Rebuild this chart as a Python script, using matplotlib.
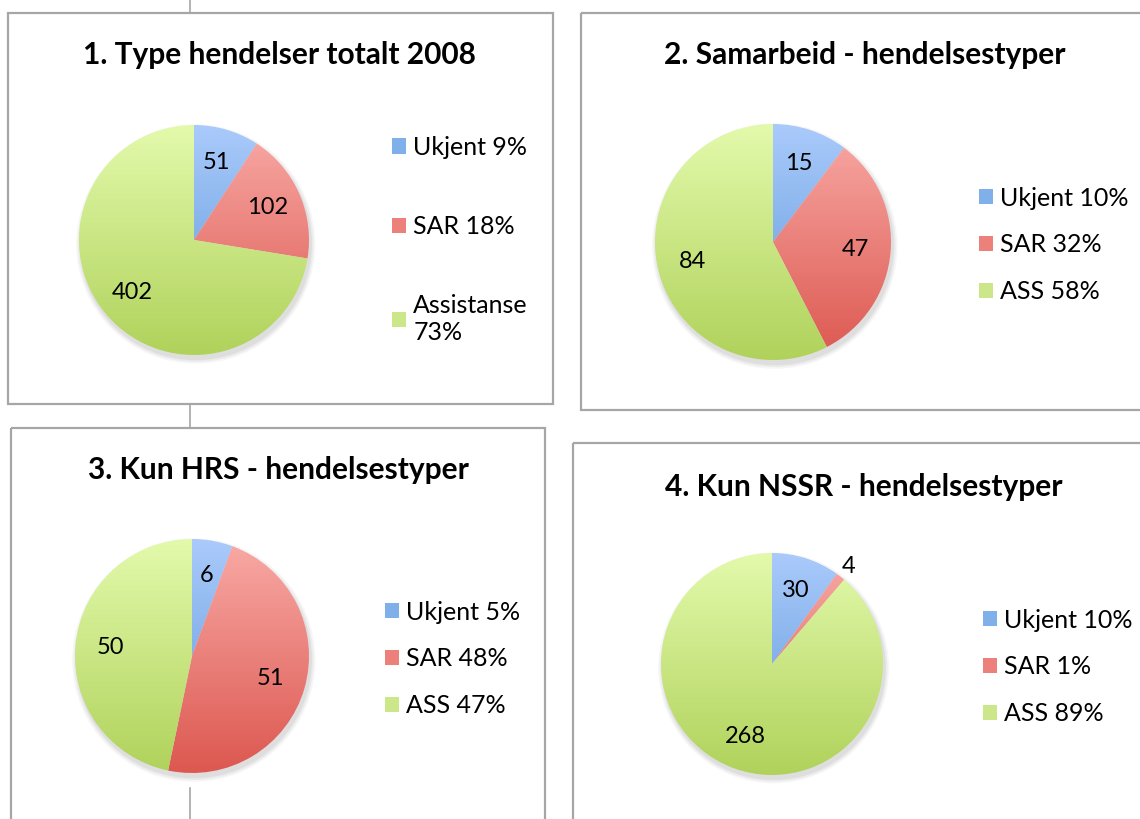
import matplotlib as mpl
mpl.use("Agg")
import matplotlib.pyplot as plt
import numpy as np
from matplotlib.colors import LinearSegmentedColormap
from matplotlib.patches import Patch, Rectangle, Circle

# ---- data ----
TITLES = [
    "1. Type hendelser totalt 2008",
    "2. Samarbeid - hendelsestyper",
    "3. Kun HRS - hendelsestyper",
    "4. Kun NSSR - hendelsestyper",
]
COUNTS_1 = [51, 102, 402]
COUNTS_2 = [15, 47, 84]
COUNTS_3 = [6, 51, 50]
COUNTS_4 = [30, 4, 268]
LEGEND_1 = ["Ukjent 9%", "SAR 18%", "Assistanse\n73%"]
LEGEND_2 = ["Ukjent 10%", "SAR 32%", "ASS 58%"]
LEGEND_3 = ["Ukjent 5%", "SAR 48%", "ASS 47%"]
LEGEND_4 = ["Ukjent 10%", "SAR 1%", "ASS 89%"]

# ---- styling / layout (pixels of a 1140x819 canvas) ----
W, H = 1140, 819
GRADIENTS = [("#aacafb", "#5a97d8"), ("#f9aaa6", "#dc5850"), ("#e3faac", "#b0d25b")]
MIDS = ["#7fb0ea", "#ec817b", "#cbe78a"]
BORDER = "#a6a6a6"
FONT = ["Lato", "DejaVu Sans"]

PANELS = [
    # box (x0, y0, x1, y1), pie centre, radius, title pos, legend anchor, labelspacing
    dict(box=(8, 13, 553, 404), c=(194, 240), r=115, ty=55, tx=279, leg=(392, 240), ls=2.25),
    dict(box=(581, 13, 1160, 410), c=(773, 242), r=118, ty=55, tx=865, leg=(979, 245), ls=0.95),
    dict(box=(11, 428, 545, 840), c=(192, 656), r=117, ty=470, tx=278, leg=(385, 659), ls=0.95),
    dict(box=(573, 443, 1160, 840), c=(772, 664), r=111, ty=487, tx=864, leg=(983, 667), ls=0.95),
]

plt.rcParams["font.family"] = FONT

fig = plt.figure(figsize=(W / 100, H / 100), dpi=100)
fig.patch.set_facecolor("white")

# overlay axes in pixel coords for the frames
bg = fig.add_axes((0, 0, 1, 1))
bg.set_xlim(0, W)
bg.set_ylim(H, 0)
bg.axis("off")
for p in PANELS:
    x0, y0, x1, y1 = p["box"]
    bg.add_patch(Rectangle((x0, y0), x1 - x0, y1 - y0, fill=False,
                           edgecolor=BORDER, lw=1.6))
for ya, yb in [(0, 13), (404, 428), (788, 819)]:
    bg.plot([190, 190], [ya, yb], color=BORDER, lw=1.2)

all_counts = [COUNTS_1, COUNTS_2, COUNTS_3, COUNTS_4]
all_legends = [LEGEND_1, LEGEND_2, LEGEND_3, LEGEND_4]

grad = np.linspace(0, 1, 256).reshape(-1, 1)

for p, title, counts, leg in zip(PANELS, TITLES, all_counts, all_legends):
    cx, cy = p["c"]
    r = p["r"]
    ax = fig.add_axes(((cx - r) / W, 1 - (cy + r) / H, 2 * r / W, 2 * r / H))
    # soft shadow
    for k, a in [(1.04, 0.05), (1.025, 0.07), (1.01, 0.09)]:
        ax.add_patch(Circle((0.015, -0.035), k, color="#606060", alpha=a,
                            lw=0, zorder=0, clip_on=False))
    wedges, _ = ax.pie(counts, startangle=90, counterclock=False, radius=1,
                       wedgeprops=dict(lw=0))
    for w, (ctop, cbot) in zip(wedges, GRADIENTS):
        w.set_facecolor("none")
        cmap = LinearSegmentedColormap.from_list("g", [ctop, cbot])
        im = ax.imshow(grad, cmap=cmap, extent=(-1, 1, -1, 1), aspect="auto",
                       origin="upper", zorder=1)
        im.set_clip_path(w)
    total = sum(counts)
    for w, v in zip(wedges, counts):
        mid = np.deg2rad((w.theta1 + w.theta2) / 2)
        d = 0.70 if v / total > 0.03 else 1.12
        ax.text(d * np.cos(mid), d * np.sin(mid), str(v), ha="center", va="center",
                fontsize=17, color="black", zorder=3)
    ax.set_xlim(-1, 1)
    ax.set_ylim(-1, 1)
    ax.axis("off")

    fig.text(p["tx"] / W, 1 - p["ty"] / H, title, ha="center", va="center",
             fontsize=21.5, fontweight="bold")

    handles = [Patch(facecolor=c, edgecolor="none") for c in MIDS]
    lx, ly = p["leg"]
    fig.legend(handles, leg, loc="center left", bbox_to_anchor=(lx / W, 1 - ly / H),
               frameon=False, fontsize=18, handlelength=0.55, handleheight=0.55,
               handletextpad=0.3, labelspacing=p["ls"], borderpad=0,
               borderaxespad=0)

fig.savefig("out.png", dpi=100)
